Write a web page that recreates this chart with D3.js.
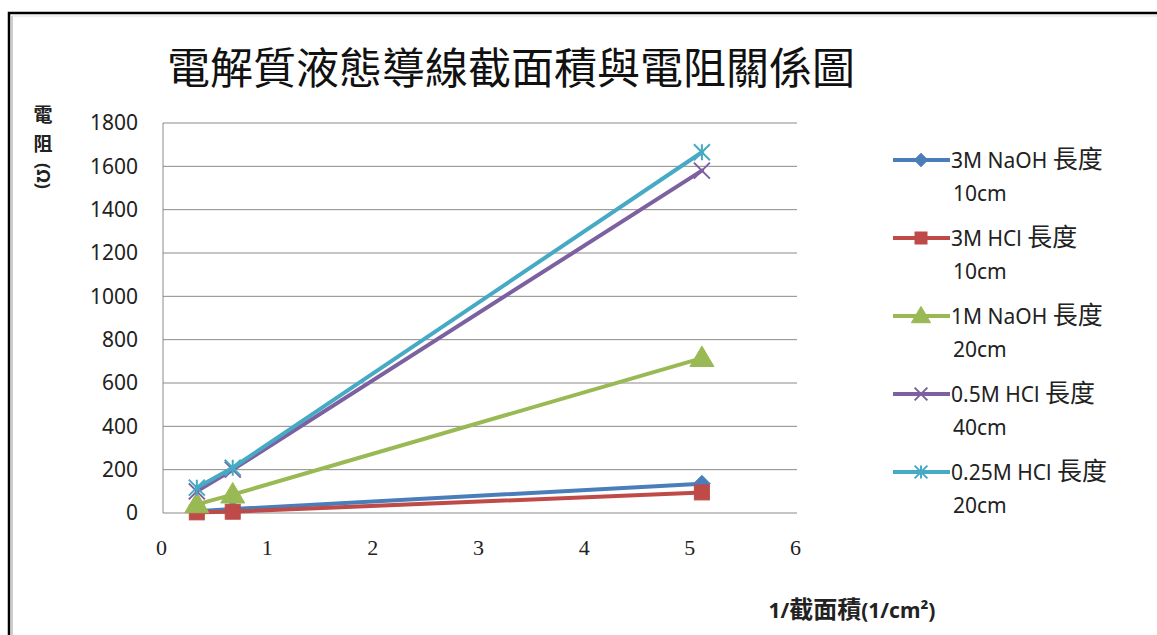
<!DOCTYPE html>
<html>
<head>
<meta charset="utf-8">
<script src="https://cdn.jsdelivr.net/npm/d3@7"></script>
<style>
  html, body { margin: 0; padding: 0; background: #fff; }
  svg { display: block; }
</style>
</head>
<body>
<svg id="chart" width="1157" height="635"></svg>
<script>
// Inverse cross-sectional area of each tube (1/cm²)
const inverseArea = [0.32, 0.66, 5.1];

// Measured resistance (Ω) for each electrolyte
const naoh3M  = [8, 18, 135];
const hcl3M   = [3, 6, 95];
const naoh1M  = [40, 85, 715];
const hcl05M  = [100, 200, 1580];
const hcl025M = [117, 209, 1665];

const seriesLabels = ["3M NaOH", "3M HCl", "1M NaOH", "0.5M HCl", "0.25M HCl"];
const seriesLengths = ["10cm", "10cm", "20cm", "40cm", "20cm"];
const lengthWord = "長度";
const seriesColors = ["#4a7ebb", "#be4b48", "#98b954", "#7d60a0", "#46aac5"];
const seriesMarkers = ["diamond", "square", "triangle", "x", "star"];

const xTicks = [0, 1, 2, 3, 4, 5, 6];
const yTicks = [0, 200, 400, 600, 800, 1000, 1200, 1400, 1600, 1800];

const titleText = "電解質液態導線截面積與電阻關係圖";
const xTitleParts = ["1/", "截面積", "(1/cm²)"];

const series = [naoh3M, hcl3M, naoh1M, hcl05M, hcl025M].map((vals, i) => ({
  label: seriesLabels[i],
  length: seriesLengths[i],
  color: seriesColors[i],
  marker: seriesMarkers[i],
  points: vals.map((v, j) => ({ x: inverseArea[j], y: v }))
}));

const svg = d3.select("#chart");
const sansFont = "'Noto Sans', 'Noto Sans CJK TC', sans-serif";
const cjkFont = "'Noto Sans CJK TC', 'Noto Sans', sans-serif";

// Outer frame
svg.append("rect").attr("x", 9).attr("y", 13).attr("width", 1160).attr("height", 640)
  .attr("fill", "none").attr("stroke", "#000").attr("stroke-width", 2.5);
svg.append("line").attr("x1", 12).attr("x2", 12).attr("y1", 16).attr("y2", 635)
  .attr("stroke", "#bbb").attr("stroke-width", 1.5);
svg.append("line").attr("x1", 12).attr("x2", 1157).attr("y1", 16).attr("y2", 16)
  .attr("stroke", "#ddd").attr("stroke-width", 1);

const plot = { left: 163, right: 797, top: 123, bottom: 513 };

const x = d3.scaleLinear().domain([0, 6]).range([plot.left, plot.right]);
const y = d3.scaleLinear().domain([0, 1800]).range([plot.bottom, plot.top]);

// Title
svg.append("text")
  .attr("x", 511).attr("y", 84)
  .attr("text-anchor", "middle")
  .attr("font-family", cjkFont)
  .attr("font-size", 43)
  .attr("fill", "#111")
  .text(titleText);

// Horizontal gridlines
svg.append("g")
  .selectAll("line")
  .data(yTicks)
  .join("line")
  .attr("x1", plot.left).attr("x2", plot.right)
  .attr("y1", d => y(d)).attr("y2", d => y(d))
  .attr("stroke", "#8a8a8a").attr("stroke-width", 1);

// Left edge of the plot area
svg.append("line")
  .attr("x1", plot.left).attr("x2", plot.left)
  .attr("y1", plot.top).attr("y2", plot.bottom)
  .attr("stroke", "#8a8a8a").attr("stroke-width", 1);

// Y axis labels
const yAxis = d3.axisLeft(y).tickValues(yTicks).tickSize(0).tickPadding(25).tickFormat(d3.format("d"));
const gy = svg.append("g").attr("transform", `translate(${plot.left},0)`).call(yAxis);
gy.select(".domain").remove();
gy.selectAll("text")
  .attr("font-family", sansFont)
  .attr("font-size", 21)
  .attr("fill", "#222");

// X axis labels
const xAxis = d3.axisBottom(x).tickValues(xTicks).tickSize(0).tickPadding(26).tickFormat(d3.format("d"));
const gx = svg.append("g").attr("transform", `translate(0,${plot.bottom})`).call(xAxis);
gx.select(".domain").remove();
gx.selectAll("text")
  .attr("font-family", "'Liberation Serif', serif")
  .attr("font-size", 22)
  .attr("fill", "#222")
  .attr("dx", -2);

// Axis titles
const xt = svg.append("text")
  .attr("x", 852).attr("y", 618)
  .attr("text-anchor", "middle")
  .attr("font-family", sansFont)
  .attr("font-weight", "bold")
  .attr("font-size", 21)
  .attr("fill", "#222");
xt.append("tspan").text(xTitleParts[0]);
xt.append("tspan").attr("font-family", cjkFont).attr("font-size", 24).text(xTitleParts[1]);
xt.append("tspan").text(xTitleParts[2]);

const yTitle = svg.append("g").attr("font-family", cjkFont).attr("font-weight", "bold")
  .attr("font-size", 19).attr("fill", "#222");
yTitle.append("text").attr("x", 43).attr("y", 122).attr("text-anchor", "middle").text("電");
yTitle.append("text").attr("x", 43).attr("y", 151).attr("text-anchor", "middle").text("阻");
yTitle.append("text")
  .attr("transform", "translate(37,176) rotate(90)")
  .attr("text-anchor", "middle")
  .attr("font-family", sansFont)
  .attr("font-size", 18)
  .text("(Ω)");

// Marker shapes
function drawMarker(g, kind, color, cx, cy, s) {
  if (kind === "diamond") {
    g.append("path")
      .attr("d", `M${cx},${cy - s * 0.6}L${cx + s * 0.6},${cy}L${cx},${cy + s * 0.6}L${cx - s * 0.6},${cy}Z`)
      .attr("fill", color).attr("stroke", color);
  } else if (kind === "square") {
    g.append("rect")
      .attr("x", cx - s / 2).attr("y", cy - s / 2).attr("width", s).attr("height", s)
      .attr("fill", color).attr("stroke", color);
  } else if (kind === "triangle") {
    const h = s * 0.6;
    g.append("path")
      .attr("d", `M${cx},${cy - h}L${cx + h},${cy + h * 0.7}L${cx - h},${cy + h * 0.7}Z`)
      .attr("fill", color).attr("stroke", color);
  } else if (kind === "x" || kind === "star") {
    const h = s / 2;
    let d = `M${cx - h},${cy - h}L${cx + h},${cy + h}M${cx - h},${cy + h}L${cx + h},${cy - h}`;
    if (kind === "star") d += `M${cx},${cy - h}L${cx},${cy + h}`;
    g.append("path").attr("d", d).attr("fill", "none").attr("stroke", color).attr("stroke-width", 2);
  }
}

const markerSize = { diamond: 14, square: 15, triangle: 20, x: 16, star: 16 };

const line = d3.line().x(d => x(d.x)).y(d => y(d.y));
const seriesG = svg.append("g");
series.forEach(s => {
  const g = seriesG.append("g");
  g.append("path")
    .datum(s.points)
    .attr("d", line)
    .attr("fill", "none")
    .attr("stroke", s.color)
    .attr("stroke-width", 4)
    .attr("stroke-linejoin", "round")
    .attr("stroke-linecap", "round");
  s.points.forEach(p => drawMarker(g, s.marker, s.color, x(p.x), y(p.y), markerSize[s.marker]));
});

// Legend
const legend = svg.append("g");
series.forEach((s, i) => {
  const ly = 160 + i * 78;
  const g = legend.append("g");
  g.append("line")
    .attr("x1", 893).attr("x2", 950).attr("y1", ly).attr("y2", ly)
    .attr("stroke", s.color).attr("stroke-width", 4);
  drawMarker(g, s.marker, s.color, 921, ly, markerSize[s.marker] * 0.8);
  const t = g.append("text")
    .attr("x", 951).attr("y", ly + 8)
    .attr("font-family", sansFont)
    .attr("font-size", 21)
    .attr("fill", "#222");
  t.append("tspan").text(s.label + " ");
  t.append("tspan").attr("font-family", cjkFont).attr("font-size", 25).text(lengthWord);
  g.append("text")
    .attr("x", 953).attr("y", ly + 41)
    .attr("font-family", sansFont)
    .attr("font-size", 21)
    .attr("fill", "#222")
    .text(s.length);
});
</script>
</body>
</html>
